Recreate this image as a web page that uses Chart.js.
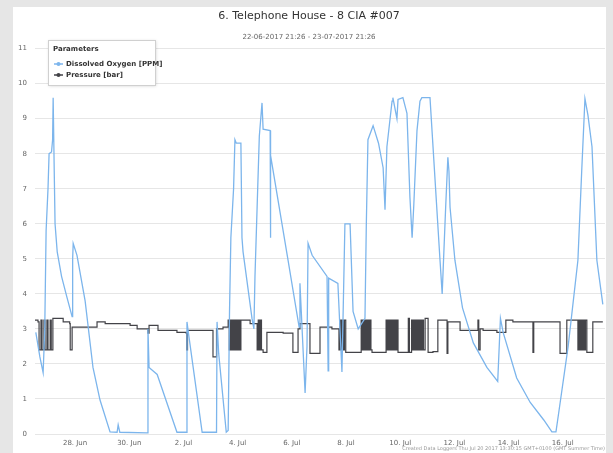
<!doctype html>
<html lang="en">
  <head>
    <meta charset="UTF-8" />
    <title>6. Telephone House - 8 CIA #007</title>
    <script src="https://cdn.jsdelivr.net/npm/chart.js"></script>
    <style>
      html, body { margin: 0; padding: 0; background: #e6e6e6; }
      #frame { position: absolute; left: 13px; top: 7px; width: 593px; height: 446px; background: #fff; }
    </style>
  </head>
  <body>
    <div id="frame"><canvas id="myChart" width="593" height="446"></canvas></div>
    <script>
      // x values are days counted from 28 Jun 2017 00:00
      const xTickDays = [0, 2, 4, 6, 8, 10, 12, 14, 16, 18]
      const xTickLabels = ['28. Jun', '30. Jun', '2. Jul', '4. Jul', '6. Jul', '8. Jul', '10. Jul', '12. Jul', '14. Jul', '16. Jul']
      const yTicks = [0, 1, 2, 3, 4, 5, 6, 7, 8, 9, 10, 11]

      const seriesNames = ['Dissolved Oxygen [PPM]', 'Pressure [bar]']

      const doReadings = [
        [-1.45, 2.9], [-1.3, 2.2], [-1.18, 1.75], [-1.12, 3.0], [-1.07, 5.8], [-1.0, 7.0], [-0.96, 8.0],
        [-0.87, 8.05], [-0.83, 8.4], [-0.81, 9.6], [-0.77, 7.5], [-0.74, 6.0], [-0.66, 5.2], [-0.5, 4.5],
        [-0.3, 3.9], [-0.11, 3.35], [-0.09, 5.0], [-0.07, 5.44], [0.07, 5.1], [0.37, 3.8], [0.66, 1.9],
        [0.92, 0.97], [1.29, 0.06], [1.55, 0.05], [1.59, 0.26], [1.65, 0.05], [2.66, 0.03], [2.69, 3.0],
        [2.73, 1.9], [3.03, 1.7], [3.76, 0.05], [4.1, 0.05], [4.13, 3.2], [4.17, 2.96], [4.69, 0.05],
        [5.22, 0.05], [5.24, 3.2], [5.3, 2.3], [5.58, 0.05], [5.65, 0.1], [5.7, 3.5], [5.75, 5.6],
        [5.85, 7.0], [5.9, 8.4], [5.95, 8.3], [6.12, 8.3], [6.16, 5.6], [6.2, 5.2], [6.53, 3.3], [6.6, 3.0],
        [6.64, 4.5], [6.72, 6.5], [6.8, 8.5], [6.9, 9.45], [6.94, 8.7], [7.2, 8.66], [7.21, 5.6], [7.22, 7.95],
        [7.86, 4.96], [8.27, 3.05], [8.3, 4.3], [8.49, 1.17], [8.56, 2.5], [8.6, 5.44], [8.75, 5.1],
        [9.3, 4.5], [9.34, 1.8], [9.36, 4.45], [9.7, 4.3], [9.85, 1.77], [9.96, 6.0], [10.15, 6.0],
        [10.26, 3.5], [10.45, 3.0], [10.7, 3.3], [10.75, 6.0], [10.81, 8.4], [11.0, 8.8], [11.2, 8.3],
        [11.37, 7.6], [11.44, 6.4], [11.51, 8.2], [11.7, 9.5], [11.73, 9.6], [11.88, 9.0], [11.92, 9.55],
        [12.1, 9.6], [12.25, 9.15], [12.36, 6.75], [12.44, 5.6], [12.5, 6.5], [12.62, 8.66], [12.73, 9.5],
        [12.8, 9.6], [13.1, 9.6], [13.47, 4.96], [13.55, 4.0], [13.68, 6.5], [13.76, 7.9], [13.8, 7.5],
        [13.84, 6.47], [14.02, 4.96], [14.3, 3.6], [14.7, 2.6], [15.2, 1.9], [15.6, 1.5], [15.7, 3.3],
        [15.8, 2.9], [16.3, 1.6], [16.8, 0.9], [17.3, 0.4], [17.6, 0.06], [17.75, 0.06], [17.85, 0.6],
        [18.2, 2.5], [18.56, 4.96], [18.7, 7.5], [18.82, 9.57], [18.93, 9.1], [19.08, 8.2], [19.26, 4.96],
        [19.48, 3.7]
      ]

      // step values: each reading holds until the next one
      const pressureReadings = [
        [-1.48, 3.25], [-1.37, 3.2], [-1.33, 2.4], [-1.26, 3.25], [-1.22, 2.4], [-1.15, 3.25], [-1.11, 2.4],
        [-1.04, 3.25], [-1.0, 2.4], [-0.92, 3.25], [-0.88, 2.4], [-0.82, 3.3], [-0.44, 3.2], [-0.2, 3.15],
        [-0.18, 2.4], [-0.11, 3.05], [0.81, 3.2], [1.11, 3.15], [2.03, 3.1], [2.29, 3.0], [2.69, 2.88],
        [2.73, 3.1], [3.06, 2.96], [3.76, 2.9], [4.1, 2.88], [4.12, 2.4], [4.15, 2.96], [5.09, 2.2],
        [5.22, 3.0], [5.46, 3.05], [5.65, 3.25], [5.69, 2.4], [5.73, 3.25], [5.77, 2.4], [5.81, 3.25],
        [5.85, 2.4], [5.89, 3.25], [5.93, 2.4], [5.97, 3.25], [6.01, 2.4], [6.05, 3.25], [6.09, 2.4],
        [6.12, 3.25], [6.46, 3.15], [6.72, 2.4], [6.76, 3.25], [6.8, 2.4], [6.84, 3.25], [6.88, 2.4],
        [6.94, 2.33], [7.08, 2.9], [7.68, 2.88], [8.04, 2.33], [8.23, 3.0], [8.3, 3.15], [8.67, 2.3],
        [9.04, 3.05], [9.48, 3.0], [9.74, 2.4], [9.78, 3.25], [9.82, 2.4], [9.86, 3.25], [9.9, 2.4],
        [9.94, 3.25], [9.99, 2.33], [10.56, 3.25], [10.6, 2.4], [10.64, 3.25], [10.68, 2.4], [10.72, 3.25],
        [10.76, 2.4], [10.8, 3.25], [10.84, 2.4], [10.88, 3.25], [10.92, 2.4], [10.96, 2.33], [11.48, 3.25],
        [11.52, 2.4], [11.56, 3.25], [11.6, 2.4], [11.64, 3.25], [11.68, 2.4], [11.72, 3.25], [11.76, 2.4],
        [11.8, 3.25], [11.84, 2.4], [11.88, 3.25], [11.92, 2.33], [12.3, 3.3], [12.34, 2.33], [12.42, 3.25],
        [12.46, 2.4], [12.5, 3.25], [12.54, 2.4], [12.58, 3.25], [12.62, 2.4], [12.66, 3.25], [12.7, 2.4],
        [12.74, 3.25], [12.78, 2.4], [12.82, 3.25], [12.86, 2.4], [12.92, 3.3], [13.03, 2.33], [13.21, 2.35],
        [13.39, 3.25], [13.73, 2.3], [13.76, 3.2], [14.21, 2.96], [14.87, 3.25], [14.9, 2.4], [14.95, 3.0],
        [15.06, 2.96], [15.57, 2.9], [15.9, 3.25], [16.16, 3.2], [16.9, 2.33], [16.93, 3.2], [17.9, 2.3],
        [18.15, 3.25], [18.56, 2.4], [18.6, 3.25], [18.64, 2.4], [18.68, 3.25], [18.72, 2.4], [18.76, 3.25],
        [18.8, 2.4], [18.84, 3.25], [18.89, 2.33], [19.11, 3.2], [19.48, 3.2]
      ]

      const seriesColors = ['#7cb5ec', '#434348']
      const creditText = 'Created Data Loggers Thu Jul 20 2017 13:30:15 GMT+0100 (GMT Summer Time)'

      Chart.defaults.font.family = '"DejaVu Sans", sans-serif'

      const toXY = (rows) => rows.map(([x, y]) => ({ x: x, y: y }))

      // floating legend box and credit line, drawn on top of the plot
      const floatingLegend = {
        id: 'floatingLegend',
        afterDraw(chart) {
          const ctx = chart.ctx
          ctx.save()
          ctx.shadowColor = 'rgba(0,0,0,0.18)'
          ctx.shadowBlur = 3
          ctx.shadowOffsetX = 1
          ctx.shadowOffsetY = 1
          ctx.fillStyle = '#fff'
          ctx.fillRect(35, 33, 107, 45)
          ctx.shadowColor = 'transparent'
          ctx.strokeStyle = '#d0d0d0'
          ctx.lineWidth = 1
          ctx.strokeRect(35.5, 33.5, 107, 45)

          ctx.textBaseline = 'middle'
          ctx.textAlign = 'left'
          ctx.fillStyle = '#333'
          ctx.font = 'bold 7px "DejaVu Sans"'
          ctx.fillText('Parameters', 40, 42)

          chart.data.datasets.forEach((ds, i) => {
            const y = 57 + i * 11
            ctx.strokeStyle = ds.borderColor
            ctx.lineWidth = 1.5
            ctx.beginPath()
            ctx.moveTo(41, y)
            ctx.lineTo(50, y)
            ctx.stroke()
            ctx.fillStyle = ds.borderColor
            ctx.beginPath()
            ctx.arc(45.5, y, 2, 0, Math.PI * 2)
            ctx.fill()
            ctx.fillStyle = '#333'
            ctx.font = 'bold 7px "DejaVu Sans"'
            ctx.fillText(ds.label, 53, y)
          })

          ctx.font = '5px "DejaVu Sans"'
          ctx.fillStyle = '#999'
          ctx.textAlign = 'right'
          ctx.fillText(creditText, 592, 442)
          ctx.restore()
        }
      }

      const ctx = document.getElementById('myChart').getContext('2d')

      const myChart = new Chart(ctx, {
        type: 'line',
        data: {
          datasets: [
            {
              label: seriesNames[0],
              data: toXY(doReadings),
              borderColor: seriesColors[0],
              backgroundColor: seriesColors[0],
              borderWidth: 1.3,
              pointRadius: 0,
              tension: 0
            },
            {
              label: seriesNames[1],
              data: toXY(pressureReadings),
              borderColor: seriesColors[1],
              backgroundColor: seriesColors[1],
              borderWidth: 1.2,
              pointRadius: 0,
              stepped: true
            }
          ]
        },
        options: {
          responsive: false,
          animation: false,
          layout: { padding: { left: 0, right: 1, top: 0, bottom: 0 } },
          plugins: {
            legend: { display: false },
            tooltip: { enabled: false },
            title: {
              display: true,
              text: '6. Telephone House - 8 CIA #007',
              color: '#333',
              font: { size: 11, weight: 'normal' },
              padding: { top: 3, bottom: 6 }
            },
            subtitle: {
              display: true,
              text: '22-06-2017 21:26 - 23-07-2017 21:26',
              color: '#666',
              font: { size: 7 },
              padding: { top: 4, bottom: 7 }
            }
          },
          scales: {
            x: {
              type: 'linear',
              min: -1.48,
              max: 19.56,
              grid: { display: false, drawTicks: false },
              border: { display: false },
              afterBuildTicks: (scale) => {
                scale.ticks = xTickDays.map((v) => ({ value: v }))
              },
              afterFit: (scale) => {
                scale.height = 19
              },
              ticks: {
                color: '#666',
                font: { size: 7 },
                padding: 5,
                maxRotation: 0,
                autoSkip: false,
                callback: (value) => {
                  const i = xTickDays.indexOf(value)
                  return i >= 0 ? xTickLabels[i] : ''
                }
              }
            },
            y: {
              min: 0,
              max: 11,
              border: { display: false },
              grid: { color: '#e6e6e6', drawTicks: false },
              afterBuildTicks: (scale) => {
                scale.ticks = yTicks.map((v) => ({ value: v }))
              },
              afterFit: (scale) => {
                scale.width = 22
              },
              ticks: {
                color: '#666',
                font: { size: 7 },
                padding: 8
              }
            }
          }
        },
        plugins: [floatingLegend]
      })
    </script>
  </body>
</html>
